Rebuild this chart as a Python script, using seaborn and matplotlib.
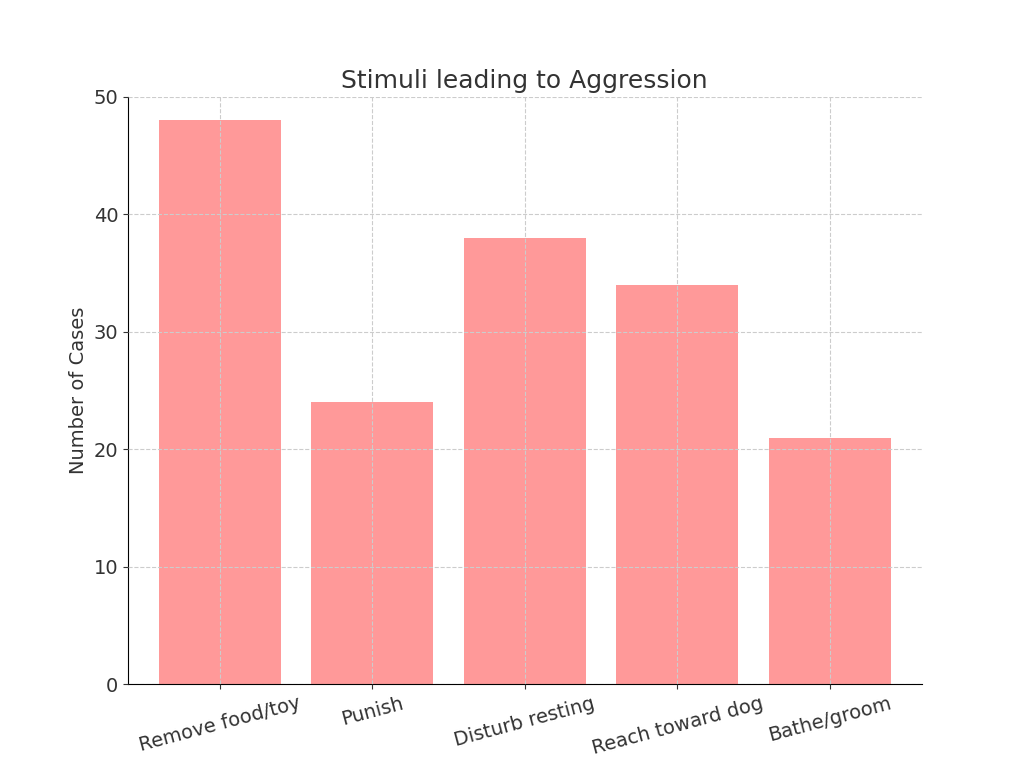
import matplotlib
matplotlib.use("Agg")
import matplotlib.pyplot as plt
import seaborn as sns
import pandas as pd

categories = ["Remove food/toy", "Punish", "Disturb resting", "Reach toward dog", "Bathe/groom"]
cases = [48, 24, 38, 34, 21]

df = pd.DataFrame({"Stimulus": categories, "Cases": cases})

plt.rcParams["text.color"] = "#333333"
plt.rcParams["axes.labelcolor"] = "#333333"
plt.rcParams["xtick.color"] = "#333333"
plt.rcParams["ytick.color"] = "#333333"

fig = plt.figure(figsize=(10.24, 7.68), dpi=100)
ax = fig.add_axes([0.125, 0.109, 0.775, 0.765])
sns.barplot(data=df, x="Stimulus", y="Cases", color="#ff9999", saturation=1, width=0.8, ax=ax, zorder=2)
ax.set_ylim(0, 50)
ax.set_xlim(-0.6, 4.6)
ax.grid(True, linestyle="--", color="#cccccc", linewidth=0.8, zorder=0)
ax.set_axisbelow(False)
for p in ax.patches:
    p.set_zorder(1)
ax.spines["top"].set_visible(False)
ax.spines["right"].set_visible(False)
ax.set_title("Stimuli leading to Aggression", fontsize=18)
ax.set_ylabel("Number of Cases", fontsize=14)
ax.set_xlabel("")
ax.tick_params(axis="both", labelsize=14)
plt.setp(ax.get_xticklabels(), rotation=15)
fig.savefig("out.png", dpi=100)
